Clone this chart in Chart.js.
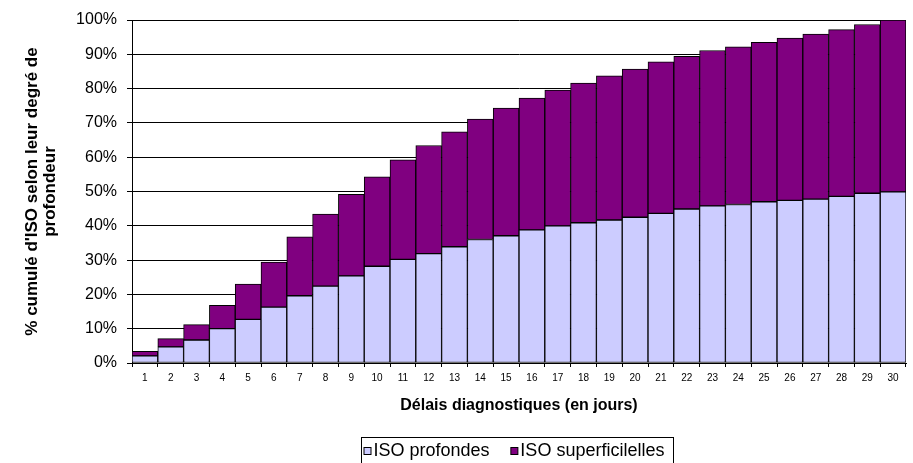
<!DOCTYPE html>
<html>
<head>
<meta charset="utf-8">
<script src="https://cdn.jsdelivr.net/npm/chart.js@4/dist/chart.umd.min.js"></script>
<style>
  html, body { margin: 0; padding: 0; background: #fff; }
  canvas { display: block; }
</style>
</head>
<body>
<canvas id="chart" width="913" height="463"></canvas>
<script>
// Diagnostic delay, in days
const days = ['1','2','3','4','5','6','7','8','9','10','11','12','13','14','15',
              '16','17','18','19','20','21','22','23','24','25','26','27','28','29','30'];

// Cumulative share of surgical-site infections (%), deep ones
const isoProfondes = [2.1, 4.7, 6.7, 10.0, 12.7, 16.3, 19.6, 22.4, 25.4, 28.2,
                      30.2, 31.9, 33.9, 36.0, 37.1, 38.8, 40.0, 40.9, 41.7, 42.5,
                      43.6, 44.9, 45.8, 46.2, 47.0, 47.4, 47.8, 48.6, 49.5, 49.9];

// Cumulative share of surgical-site infections (%), superficial ones
const isoSuperficielles = [1.3, 2.4, 4.5, 6.8, 10.3, 13.1, 17.2, 21.0, 23.8, 26.1,
                           29.0, 31.5, 33.5, 35.1, 37.2, 38.4, 39.6, 40.7, 42.0, 43.2,
                           44.2, 44.5, 45.3, 46.0, 46.5, 47.3, 48.1, 48.6, 49.2, 50.1];

const seriesLabels = ['ISO profondes', 'ISO superficilelles'];
const seriesColors = ['#CCCCFF', '#800080'];

const yTitle = ["% cumulé d'ISO selon leur degré de", 'profondeur'];
const xTitle = 'Délais diagnostiques (en jours)';

const FONT = '"Liberation Sans", Arial, Helvetica, sans-serif';

// Framed legend below the axis title
const framedLegend = {
  id: 'framedLegend',
  afterDraw(chart) {
    const ctx = chart.ctx;
    ctx.save();
    ctx.lineWidth = 1;
    ctx.strokeStyle = '#000';
    ctx.strokeRect(361.5, 437.5, 312, 40);
    ctx.font = '18px ' + FONT;
    ctx.textBaseline = 'middle';
    ctx.textAlign = 'left';
    let x = 363.5;
    chart.data.datasets.forEach(ds => {
      ctx.fillStyle = ds.backgroundColor;
      ctx.fillRect(x + 0.5, 447.5, 7, 7);
      ctx.strokeStyle = '#000';
      ctx.strokeRect(x + 0.5, 447.5, 7, 7);
      ctx.fillStyle = '#000';
      ctx.fillText(ds.label, x + 10, 451);
      x += 10 + ctx.measureText(ds.label).width + 20.8;
    });
    ctx.restore();
  }
};

new Chart(document.getElementById('chart'), {
  type: 'bar',
  data: {
    labels: days,
    datasets: [
      {
        label: seriesLabels[0],
        data: isoProfondes,
        backgroundColor: seriesColors[0],
        borderColor: '#000',
        borderWidth: 1,
        borderSkipped: false,
        barPercentage: 1,
        categoryPercentage: 1
      },
      {
        label: seriesLabels[1],
        data: isoSuperficielles,
        backgroundColor: seriesColors[1],
        borderColor: '#000',
        borderWidth: 1,
        borderSkipped: false,
        barPercentage: 1,
        categoryPercentage: 1
      }
    ]
  },
  options: {
    responsive: false,
    animation: false,
    devicePixelRatio: 1,
    layout: { padding: { top: 20, right: 7, bottom: 48, left: 0 } },
    plugins: {
      legend: { display: false },
      tooltip: { enabled: false }
    },
    scales: {
      x: {
        stacked: true,
        ticks: {
          color: '#000',
          font: { family: FONT, size: 10 },
          padding: 5,
          maxRotation: 0,
          autoSkip: false
        },
        grid: {
          offset: true,
          drawOnChartArea: false,
          drawTicks: true,
          tickLength: 4,
          color: '#000'
        },
        border: { color: '#000', width: 1 },
        title: {
          display: true,
          text: xTitle,
          color: '#000',
          font: { family: FONT, size: 16, weight: 'bold' },
          padding: { top: 0, bottom: 0 }
        },
        afterFit(scale) { scale.height = 52; }
      },
      y: {
        stacked: true,
        min: 0,
        max: 100,
        ticks: {
          stepSize: 10,
          color: '#000',
          font: { family: FONT, size: 16 },
          padding: 10,
          callback: v => v + '%'
        },
        grid: {
          color: '#000',
          lineWidth: 1,
          drawTicks: true,
          tickLength: 5
        },
        border: { color: '#000', width: 1 },
        title: {
          display: true,
          text: yTitle,
          color: '#000',
          font: { family: FONT, size: 17, weight: 'bold', lineHeight: '18px' },
          padding: { top: 23, bottom: 0 }
        },
        afterFit(scale) { scale.width = 132; }
      }
    }
  },
  plugins: [framedLegend]
});
</script>
</body>
</html>
